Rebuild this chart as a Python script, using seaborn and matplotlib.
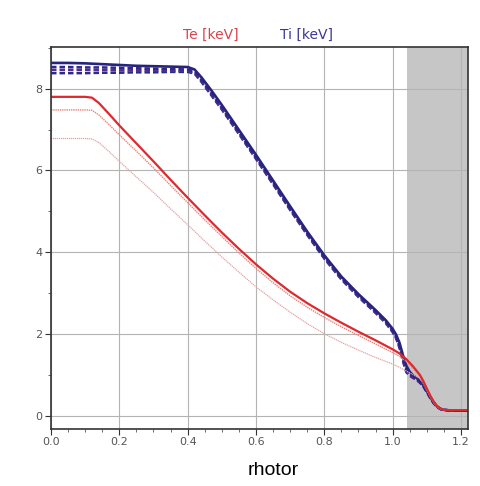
import numpy as np
import pandas as pd
import matplotlib
matplotlib.use("Agg")
import matplotlib.pyplot as plt
from matplotlib.ticker import MultipleLocator
import seaborn as sns

# ---------------- data ----------------
rho_te = [0.00, 0.05, 0.10, 0.12, 0.14, 0.17, 0.20, 0.25, 0.30, 0.35, 0.40, 0.45,
          0.50, 0.55, 0.60, 0.65, 0.70, 0.75, 0.80, 0.85, 0.90, 0.95, 1.00, 1.02,
          1.04, 1.06, 1.08, 1.09, 1.10, 1.11, 1.12, 1.13, 1.14, 1.15, 1.16, 1.18,
          1.20, 1.22]
te_main = [7.80, 7.80, 7.80, 7.78, 7.65, 7.38, 7.10, 6.66, 6.22, 5.77, 5.33, 4.90,
           4.48, 4.08, 3.70, 3.35, 3.03, 2.75, 2.50, 2.27, 2.05, 1.84, 1.62, 1.52,
           1.38, 1.20, 0.99, 0.84, 0.66, 0.49, 0.34, 0.23, 0.17, 0.14, 0.13, 0.13,
           0.13, 0.13]
te_b = [7.48, 7.48, 7.48, 7.47, 7.36, 7.12, 6.87, 6.47, 6.06, 5.63, 5.21, 4.79,
        4.38, 3.98, 3.60, 3.25, 2.93, 2.65, 2.40, 2.17, 1.96, 1.75, 1.54, 1.45,
        1.32, 1.15, 0.95, 0.80, 0.63, 0.46, 0.32, 0.22, 0.16, 0.14, 0.13, 0.13,
        0.13, 0.13]
te_c = [6.78, 6.78, 6.78, 6.77, 6.68, 6.46, 6.22, 5.84, 5.46, 5.06, 4.67, 4.27,
        3.88, 3.51, 3.15, 2.83, 2.53, 2.25, 2.00, 1.79, 1.60, 1.42, 1.26, 1.18,
        1.09, 1.00, 0.90, 0.78, 0.62, 0.45, 0.31, 0.21, 0.16, 0.14, 0.13, 0.13,
        0.13, 0.13]

rho_ti = [0.00, 0.05, 0.10, 0.15, 0.20, 0.25, 0.30, 0.35, 0.40, 0.42, 0.44, 0.47,
          0.50, 0.55, 0.60, 0.65, 0.70, 0.75, 0.80, 0.85, 0.90, 0.95, 0.98, 1.00,
          1.01, 1.02, 1.03, 1.04, 1.05, 1.06, 1.07, 1.08, 1.09, 1.10, 1.11, 1.12,
          1.13, 1.14, 1.15, 1.16, 1.18, 1.20, 1.22]
ti_main = [8.63, 8.63, 8.62, 8.60, 8.58, 8.56, 8.55, 8.54, 8.53, 8.47, 8.28, 7.95,
           7.60, 6.99, 6.38, 5.75, 5.12, 4.50, 3.92, 3.40, 2.97, 2.58, 2.33, 2.12,
           1.98, 1.78, 1.48, 1.22, 1.07, 0.98, 0.92, 0.84, 0.74, 0.60, 0.45, 0.32,
           0.22, 0.16, 0.14, 0.13, 0.12, 0.12, 0.12]
ti_b = [8.53, 8.53, 8.52, 8.52, 8.51, 8.50, 8.49, 8.48, 8.47, 8.42, 8.22, 7.88,
        7.53, 6.93, 6.32, 5.70, 5.07, 4.46, 3.88, 3.37, 2.94, 2.55, 2.30, 2.08,
        1.93, 1.70, 1.40, 1.15, 1.02, 0.95, 0.90, 0.83, 0.73, 0.59, 0.44, 0.31,
        0.22, 0.16, 0.14, 0.13, 0.12, 0.12, 0.12]
ti_c = [8.46, 8.46, 8.46, 8.46, 8.45, 8.45, 8.45, 8.44, 8.44, 8.39, 8.19, 7.85,
        7.51, 6.91, 6.30, 5.68, 5.05, 4.44, 3.86, 3.35, 2.92, 2.53, 2.28, 2.06,
        1.91, 1.68, 1.36, 1.10, 0.99, 0.93, 0.88, 0.81, 0.72, 0.58, 0.44, 0.31,
        0.22, 0.16, 0.14, 0.13, 0.12, 0.12, 0.12]
ti_d = [8.38, 8.38, 8.38, 8.39, 8.39, 8.40, 8.40, 8.41, 8.41, 8.37, 8.17, 7.83,
        7.49, 6.89, 6.28, 5.66, 5.03, 4.42, 3.84, 3.33, 2.90, 2.51, 2.26, 2.04,
        1.89, 1.66, 1.33, 1.06, 0.97, 0.92, 0.87, 0.80, 0.71, 0.57, 0.43, 0.30,
        0.21, 0.16, 0.14, 0.13, 0.12, 0.12, 0.12]

xticks = [0.0, 0.2, 0.4, 0.6, 0.8, 1.0, 1.2]
yticks = [0, 2, 4, 6, 8]
edge_start = 1.042

# ---------------- plot ----------------
sns.set_theme(style="whitegrid")
plt.rcParams["font.family"] = ["DejaVu Sans"]

fig = plt.figure(figsize=(4.81, 4.86), dpi=100)
fig.patch.set_facecolor("white")
ax = fig.add_axes([51 / 481, 1 - 429 / 486, (468 - 51) / 481, (429 - 47) / 486])
ax.set_facecolor("white")

ax.axvspan(edge_start, 1.2205, color="#c6c6c6", zorder=0.2, lw=0)

ti_df = pd.DataFrame({"rho": rho_ti, "a": ti_main, "b": ti_b, "c": ti_c, "d": ti_d})
te_df = pd.DataFrame({"rho": rho_te, "a": te_main, "b": te_b, "c": te_c})

sns.lineplot(data=ti_df, x="rho", y="d", ax=ax, color="#2b2a86", lw=1.8,
             linestyle=(0, (2.2, 1.2)), sort=False)
sns.lineplot(data=ti_df, x="rho", y="c", ax=ax, color="#5b2a8e", lw=1.8,
             linestyle=(0, (2.2, 1.2)), sort=False)
sns.lineplot(data=ti_df, x="rho", y="b", ax=ax, color="#2e2a8c", lw=1.8,
             linestyle=(0, (2.2, 1.2)), sort=False)
sns.lineplot(data=ti_df, x="rho", y="a", ax=ax, color="#28247e", lw=1.9, sort=False)

sns.lineplot(data=te_df, x="rho", y="c", ax=ax, color="#e3a3a3", lw=0.9,
             linestyle=(0, (1, 0.6)), sort=False)
sns.lineplot(data=te_df, x="rho", y="b", ax=ax, color="#ec8078", lw=1.0,
             linestyle=(0, (1, 0.6)), sort=False)
sns.lineplot(data=te_df, x="rho", y="a", ax=ax, color="#dc2a2e", lw=1.6, sort=False)

ax.set_xlim(0, 1.2205)
ax.set_ylim(-0.33, 9.02)
ax.set_xticks(xticks)
ax.set_yticks(yticks)
ax.set_xticklabels([f"{v:.1f}" for v in xticks])
ax.set_yticklabels([str(v) for v in yticks])
ax.xaxis.set_minor_locator(MultipleLocator(0.05))
ax.yaxis.set_minor_locator(MultipleLocator(1))
ax.set_axisbelow(True)
ax.grid(True, which="major", color="#b4b4b4", lw=0.8)
ax.grid(False, which="minor")
ax.tick_params(which="major", direction="out", length=4, width=0.8,
               color="#333333", labelsize=8, labelcolor="#555555",
               bottom=True, left=True, pad=2)
ax.tick_params(which="minor", direction="out", length=2, width=0.6,
               color="#555555", bottom=True, left=True)
for s in ax.spines.values():
    s.set_visible(True)
    s.set_color("#333333")
    s.set_linewidth(1.2)
ax.set_xlabel("")
ax.set_ylabel("")

fig.text(211 / 481, 1 - 35 / 486, "Te [keV]", color="#d8434a", fontsize=10,
         ha="center", va="center")
fig.text(307 / 481, 1 - 35 / 486, "Ti [keV]", color="#3b3896", fontsize=10,
         ha="center", va="center")
fig.text(273 / 481, 1 - 470 / 486, "rhotor", color="black", fontsize=14,
         ha="center", va="center", family=["Liberation Sans", "DejaVu Sans"])

fig.savefig("out.png", dpi=100, facecolor="white")
